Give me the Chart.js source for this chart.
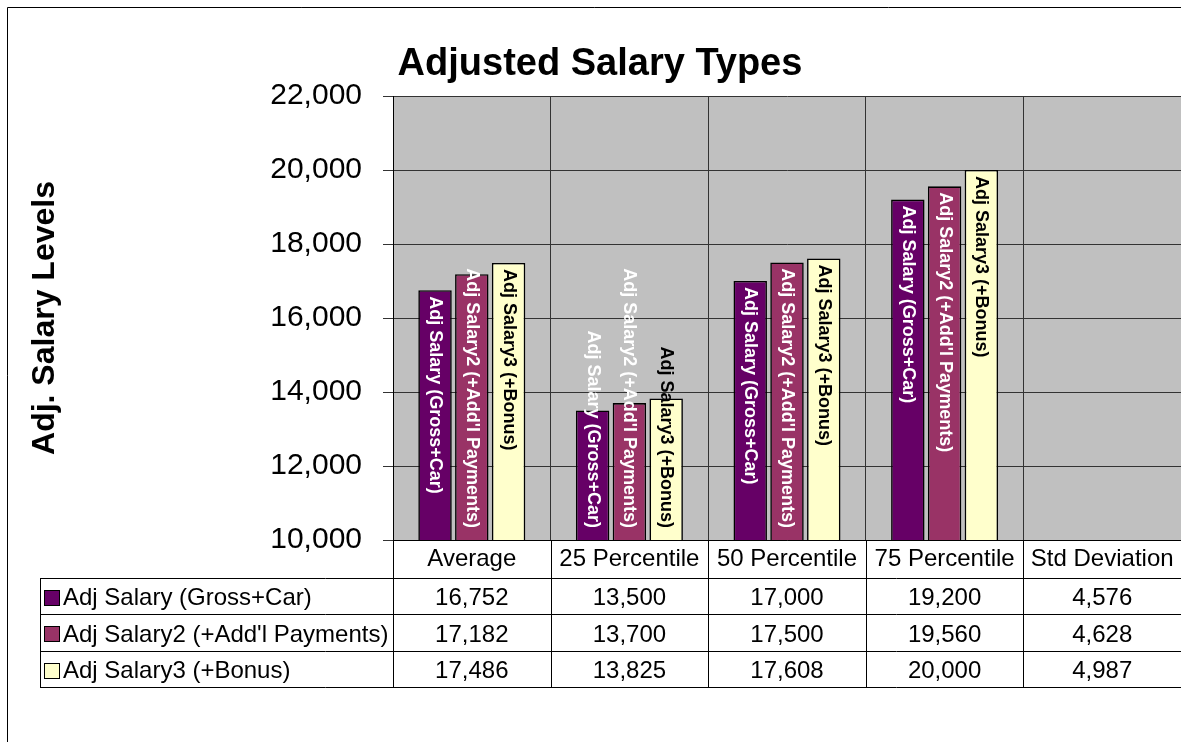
<!DOCTYPE html>
<html><head><meta charset="utf-8">
<style>html,body{margin:0;padding:0;background:#fff;}canvas{display:block;}</style>
<script src="https://cdn.jsdelivr.net/npm/chart.js@4.4.1/dist/chart.umd.min.js"></script>
</head><body>
<canvas id="c" width="1181" height="742"></canvas>
<script>
// ---- data ----
const categories = ['Average', '25 Percentile', '50 Percentile', '75 Percentile', 'Std Deviation'];
const seriesNames = ['Adj Salary (Gross+Car)', "Adj Salary2 (+Add'l Payments)", 'Adj Salary3 (+Bonus)'];
const adjSalary  = [16752, 13500, 17000, 19200, 4576];
const adjSalary2 = [17182, 13700, 17500, 19560, 4628];
const adjSalary3 = [17486, 13825, 17608, 20000, 4987];
const yMin = 10000, yMax = 22000, yStep = 2000;
const chartTitle = 'Adjusted Salary Types';
const yTitle = 'Adj. Salary Levels';

// ---- styles ----
const FONT = "'Liberation Sans', Arial, Helvetica, sans-serif";
const seriesColors = ['#660066', '#993366', '#FFFFCC'];
const labelColors = ['#ffffff', '#ffffff', '#000000'];
const seriesData = [adjSalary, adjSalary2, adjSalary3];
const fmt = v => Number(v).toLocaleString('en-US');

const framePlugin = {
  id: 'frame',
  beforeDraw(chart) {
    const {ctx, chartArea: a} = chart;
    ctx.save();
    ctx.fillStyle = '#ffffff';
    ctx.fillRect(0, 0, chart.width, chart.height);
    ctx.strokeStyle = '#000';
    ctx.lineWidth = 1;
    ctx.beginPath();
    ctx.moveTo(7.5, chart.height + 2);
    ctx.lineTo(7.5, 7.5);
    ctx.lineTo(chart.width + 2, 7.5);
    ctx.stroke();
    ctx.fillStyle = '#C0C0C0';
    ctx.fillRect(a.left, a.top, a.right - a.left, a.bottom - a.top);
    ctx.restore();
  }
};

const barLabelPlugin = {
  id: 'barLabels',
  afterDatasetsDraw(chart) {
    const {ctx, chartArea: a} = chart;
    const ys = chart.scales.y;
    ctx.save();
    ctx.font = 'bold 18px ' + FONT;
    chart.data.datasets.forEach((ds, di) => {
      const meta = chart.getDatasetMeta(di);
      meta.data.forEach((bar, i) => {
        const v = ds.data[i];
        if (v < ys.min) return;
        const text = ds.label;
        const w = ctx.measureText(text).width;
        const base = Math.min(bar.base, a.bottom);
        const start = Math.min(bar.y + 6, base - 12 - w);
        ctx.save();
        ctx.translate(bar.x, start);
        ctx.rotate(Math.PI / 2);
        ctx.fillStyle = labelColors[di];
        ctx.textAlign = 'left';
        ctx.textBaseline = 'middle';
        ctx.fillText(text, 0, 0);
        ctx.restore();
      });
    });
    ctx.restore();
  }
};

const tablePlugin = {
  id: 'dataTable',
  afterDraw(chart) {
    const {ctx, chartArea: a} = chart;
    const xs = chart.scales.x;
    const top = a.bottom;
    const headH = 38, rowH = 36.3, left = 40;
    const right = chart.width + 5;
    const rows = seriesNames.length;
    const bottom = Math.round(top + headH + rowH * rows);
    const n = categories.length;
    const half = (xs.getPixelForValue(1) - xs.getPixelForValue(0)) / 2;
    const bounds = [a.left];
    for (let i = 0; i < n; i++) bounds.push(xs.getPixelForValue(i) + half);
    ctx.save();
    ctx.strokeStyle = '#000';
    ctx.lineWidth = 1;
    ctx.beginPath();
    for (let r = 0; r <= rows; r++) {
      const yy = Math.round(top + headH + r * rowH) + 0.5;
      ctx.moveTo(left, yy);
      ctx.lineTo(right, yy);
    }
    ctx.moveTo(left + 0.5, top + headH);
    ctx.lineTo(left + 0.5, bottom + 0.5);
    bounds.forEach(b => {
      const bx = Math.round(b) + 0.5;
      ctx.moveTo(bx, top);
      ctx.lineTo(bx, bottom + 0.5);
    });
    ctx.stroke();

    ctx.textBaseline = 'middle';
    ctx.font = '24px ' + FONT;
    for (let r = 0; r < rows; r++) {
      const mid = top + headH + r * rowH + rowH / 2;
      // legend key
      const ky = Math.round(mid - 6) + 0.5;
      ctx.fillStyle = seriesColors[r];
      ctx.fillRect(44.5, ky, 15, 15);
      ctx.strokeStyle = '#000';
      ctx.strokeRect(44.5, ky, 15, 15);
      ctx.fillStyle = '#000';
      ctx.textAlign = 'left';
      ctx.fillText(seriesNames[r], 63, mid + 2.5);
      ctx.textAlign = 'center';
      seriesData[r].forEach((v, i) => {
        ctx.fillText(fmt(v), xs.getPixelForValue(i), mid + 2.5);
      });
    }
    ctx.restore();
  }
};

const datasets = seriesNames.map((name, k) => ({
  label: name,
  data: seriesData[k],
  backgroundColor: seriesColors[k],
  borderColor: '#000',
  borderWidth: 1.6,
  borderSkipped: false,
  clip: 0,
  categoryPercentage: 0.7,
  barPercentage: 0.91
}));

new Chart(document.getElementById('c'), {
  type: 'bar',
  data: { labels: categories, datasets },
  options: {
    responsive: false,
    animation: false,
    layout: { padding: { top: 10, left: 16, right: -3, bottom: 0 } },
    plugins: {
      legend: { display: false },
      tooltip: { enabled: false },
      title: {
        display: true, text: chartTitle, color: '#000',
        font: { family: FONT, size: 38, weight: 'bold' },
        padding: { top: 32, bottom: 8.4 }
      }
    },
    scales: {
      x: {
        grid: { color: '#333', drawTicks: false, offset: true },
        border: { color: '#000' },
        ticks: { font: { family: FONT, size: 24 }, color: '#000', padding: 5, maxRotation: 0, autoSkip: false },
        afterFit(s) { s.height = 202; }
      },
      y: {
        min: yMin, max: yMax,
        ticks: { stepSize: yStep, font: { family: FONT, size: 30 }, color: '#000', padding: 21, callback: v => fmt(v) },
        grid: { color: '#333', tickLength: 10 },
        border: { color: '#000' },
        title: { display: true, text: yTitle, color: '#000', font: { family: FONT, size: 32, weight: 'bold' }, padding: { top: 10, bottom: 0 } },
        afterFit(s) { s.width = 377; }
      }
    }
  },
  plugins: [framePlugin, barLabelPlugin, tablePlugin]
});
</script>
</body></html>
